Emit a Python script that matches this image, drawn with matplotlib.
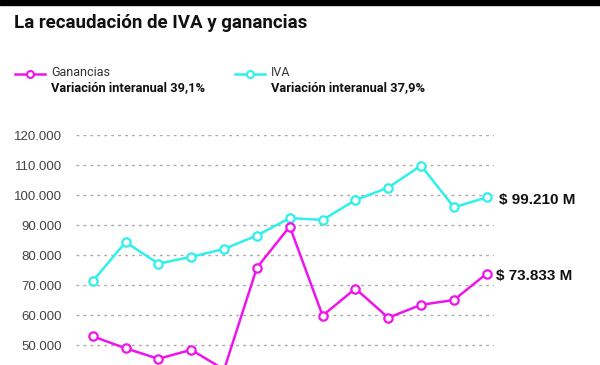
import matplotlib
matplotlib.use("Agg")
import matplotlib.pyplot as plt
from matplotlib.patches import Rectangle
from matplotlib.lines import Line2D
from matplotlib.ticker import FuncFormatter

# Monthly collection, millions of pesos
months = list(range(13))
iva = [71300, 84300, 77100, 79400, 82000, 86500, 92300, 91700,
       98300, 102500, 109800, 95900, 99210]
ganancias = [52900, 48900, 45400, 48400, 41800, 75800, 89500, 59800,
             68800, 59100, 63400, 65000, 73833]
y_ticks = [50000, 60000, 70000, 80000, 90000, 100000, 110000, 120000]

title = "La recaudación de IVA y ganancias"
label_gan = "Ganancias"
label_iva = "IVA"
var_gan = "Variación interanual 39,1%"
var_iva = "Variación interanual 37,9%"
end_iva = "$ 99.210 M"
end_gan = "$ 73.833 M"

MAGENTA = "#f014ec"
CYAN = "#2ef0ec"
NARROW = ["Roboto", "DejaVu Sans"]

W, H = 600, 365
fig = plt.figure(figsize=(W / 100, H / 100), dpi=100)

# black strip on top
fig.patches.append(Rectangle((0, 1 - 4.5 / H), 1, 4.5 / H, transform=fig.transFigure,
                             color="black", zorder=10))

fig.text(14 / W, 1 - 23 / H, title, family=NARROW, weight="bold", fontsize=13.5,
         va="center", ha="left", color="#111111")

# legend entries drawn by hand
def legend_item(x0, color, name, var):
    y = 1 - 74 / H
    fig.add_artist(Line2D([x0 / W, (x0 + 30) / W], [y, y], transform=fig.transFigure,
                          color=color, lw=1.8))
    fig.add_artist(Line2D([(x0 + 15) / W], [y], transform=fig.transFigure, color=color,
                          marker="o", ms=5, mfc="white", mew=1.5))
    fig.text((x0 + 36) / W, 1 - 73 / H, name, family=NARROW, fontsize=9,
             va="center", ha="left", color="#333333")
    fig.text((x0 + 36) / W, 1 - 88 / H, var, family=NARROW, weight="bold", fontsize=9.3,
             va="center", ha="left", color="#111111")

legend_item(15, MAGENTA, label_gan, var_gan)
legend_item(235, CYAN, label_iva, var_iva)

# axes: 120.000 gridline at y=135px, 30px per 10.000
ax_left, ax_right = 76, 494
y_top, y_bot = 135, 375
ax = fig.add_axes([ax_left / W, 1 - y_bot / H, (ax_right - ax_left) / W, (y_bot - y_top) / H])
ax.set_ylim(40000, 120000)
ax.set_xlim(-0.51, 12.22)

ax.plot(months, iva, color=CYAN, lw=1.8, marker="o", ms=6, mfc="white", mew=1.6,
        clip_on=False, zorder=3)
ax.plot(months, ganancias, color=MAGENTA, lw=1.8, marker="o", ms=6, mfc="white", mew=1.6,
        clip_on=False, zorder=3)

ax.set_yticks(y_ticks)
ax.yaxis.set_major_formatter(FuncFormatter(lambda v, p: f"{int(v):,}".replace(",", ".")))
ax.set_xticks([])
ax.tick_params(axis="y", length=0, pad=10, labelsize=9.5, labelcolor="#444444")
for lab in ax.get_yticklabels():
    lab.set_family("Liberation Sans")
ax.yaxis.grid(True, color="#aaaaaa", lw=1, linestyle=(0, (2, 3)))
ax.set_axisbelow(True)
for s in ax.spines.values():
    s.set_visible(False)

ax.annotate(end_iva, (months[-1], iva[-1]), xytext=(9, -2), textcoords="offset points",
            ha="left", va="center", fontsize=11, weight="bold", family="Liberation Sans",
            color="#111111")
ax.annotate(end_gan, (months[-1], ganancias[-1]), xytext=(7, -2), textcoords="offset points",
            ha="left", va="center", fontsize=11, weight="bold", family="Liberation Sans",
            color="#111111")

fig.savefig("out.png", dpi=100)
